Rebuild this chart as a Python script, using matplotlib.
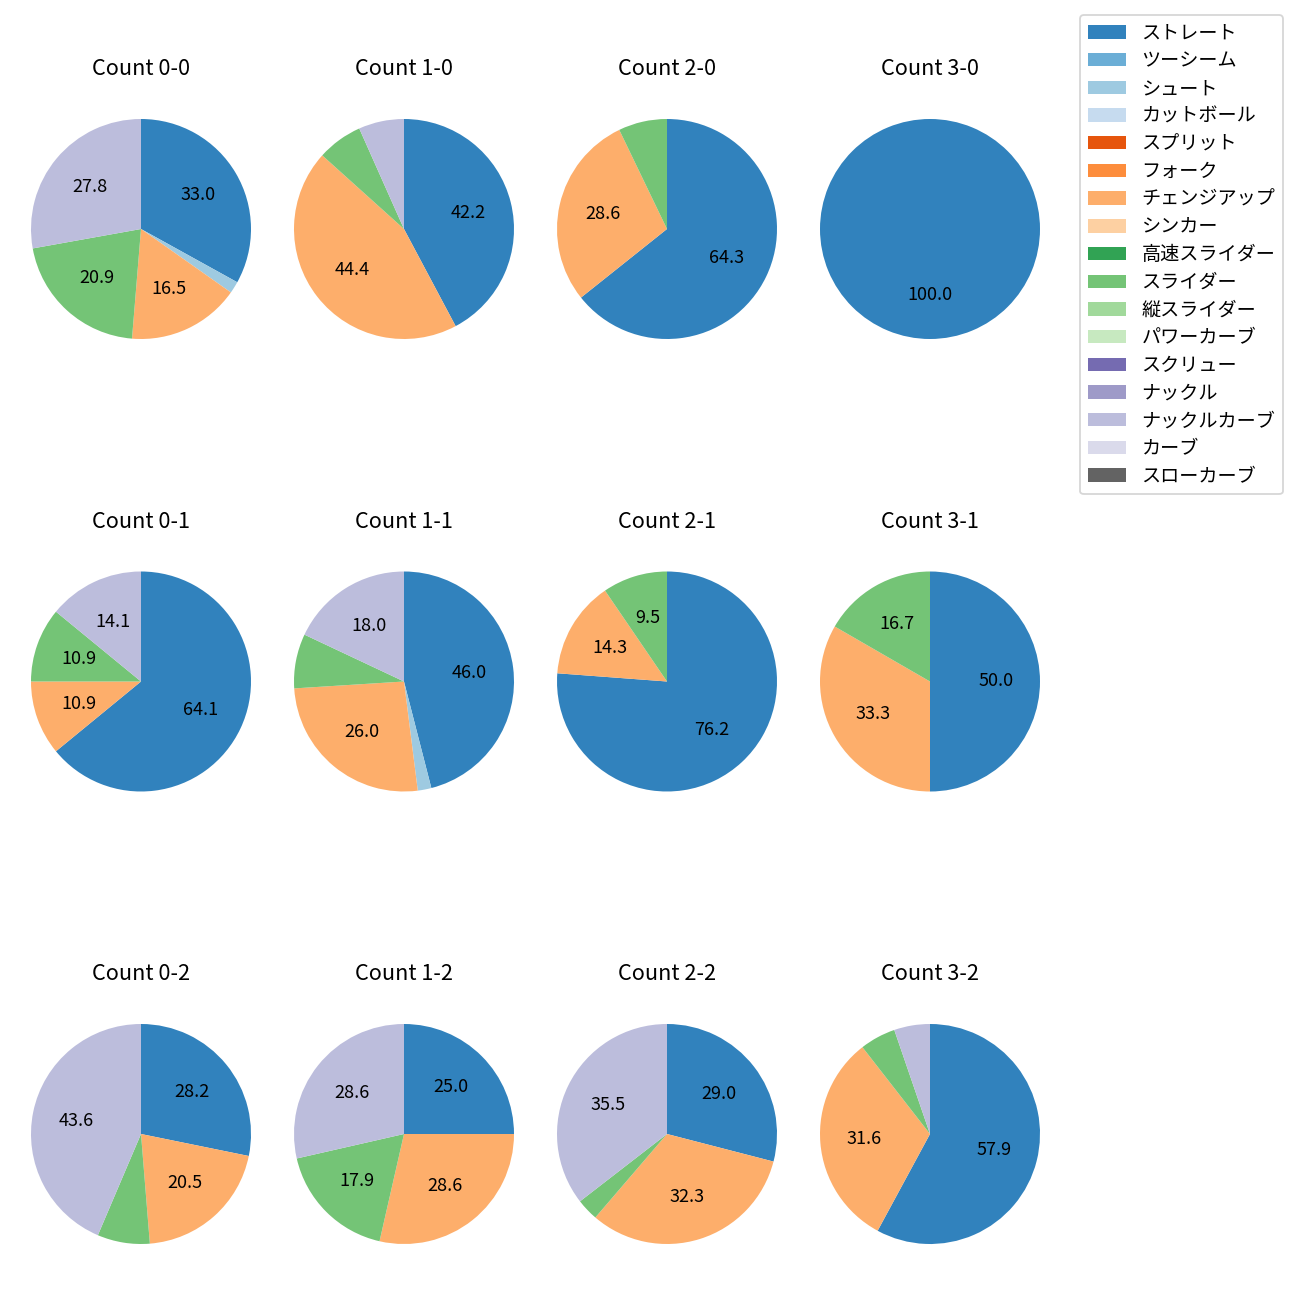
import matplotlib
matplotlib.use("Agg")
import matplotlib.pyplot as plt
import numpy as np
from matplotlib.patches import Patch

plt.rcParams['font.family'] = ['Noto Sans CJK JP', 'DejaVu Sans']

pitch_types = ["ストレート", "ツーシーム", "シュート", "カットボール", "スプリット", "フォーク",
               "チェンジアップ", "シンカー", "高速スライダー", "スライダー", "縦スライダー",
               "パワーカーブ", "スクリュー", "ナックル", "ナックルカーブ", "カーブ", "スローカーブ"]

counts = ["0-0", "1-0", "2-0", "3-0",
          "0-1", "1-1", "2-1", "3-1",
          "0-2", "1-2", "2-2", "3-2"]

# pitch counts per ball-strike count, in pitch_types order
#            Str Two Sht Cut Spl Frk Chg Snk HSl Sld VSl PCv Scr Knk KCv Crv SCv
c_0_0 = [38, 0, 2, 0, 0, 0, 19, 0, 0, 24, 0, 0, 0, 0, 32, 0, 0]
c_1_0 = [19, 0, 0, 0, 0, 0, 20, 0, 0, 3, 0, 0, 0, 0, 3, 0, 0]
c_2_0 = [9, 0, 0, 0, 0, 0, 4, 0, 0, 1, 0, 0, 0, 0, 0, 0, 0]
c_3_0 = [5, 0, 0, 0, 0, 0, 0, 0, 0, 0, 0, 0, 0, 0, 0, 0, 0]
c_0_1 = [41, 0, 0, 0, 0, 0, 7, 0, 0, 7, 0, 0, 0, 0, 9, 0, 0]
c_1_1 = [23, 0, 1, 0, 0, 0, 13, 0, 0, 4, 0, 0, 0, 0, 9, 0, 0]
c_2_1 = [16, 0, 0, 0, 0, 0, 3, 0, 0, 2, 0, 0, 0, 0, 0, 0, 0]
c_3_1 = [3, 0, 0, 0, 0, 0, 2, 0, 0, 1, 0, 0, 0, 0, 0, 0, 0]
c_0_2 = [11, 0, 0, 0, 0, 0, 8, 0, 0, 3, 0, 0, 0, 0, 17, 0, 0]
c_1_2 = [7, 0, 0, 0, 0, 0, 8, 0, 0, 5, 0, 0, 0, 0, 8, 0, 0]
c_2_2 = [9, 0, 0, 0, 0, 0, 10, 0, 0, 1, 0, 0, 0, 0, 11, 0, 0]
c_3_2 = [11, 0, 0, 0, 0, 0, 6, 0, 0, 1, 0, 0, 0, 0, 1, 0, 0]

data = [c_0_0, c_1_0, c_2_0, c_3_0, c_0_1, c_1_1, c_2_1, c_3_1,
        c_0_2, c_1_2, c_2_2, c_3_2]

cmap = plt.get_cmap('tab20c')
colors = [cmap(i) for i in range(len(pitch_types))]

W = H = 1300
fig = plt.figure(figsize=(10, 10), dpi=130)

box = 275
cx0, dx = 141, 263
cy0, dy = 229, 452.5

def autopct(p):
    return f"{p:.1f}" if p >= 9 else ""

for k, (cnt, vals) in enumerate(zip(counts, data)):
    r, c = divmod(k, 4)
    cx = cx0 + c * dx
    cy = cy0 + r * dy
    ax = fig.add_axes([(cx - box / 2) / W, 1 - (cy + box / 2) / H, box / W, box / H])
    vals = np.array(vals, dtype=float)
    idx = [i for i, v in enumerate(vals) if v > 0]
    ax.pie(vals[idx], colors=[colors[i] for i in idx], startangle=90,
           counterclock=False, autopct=autopct)
    ax.set_title(f"Count {cnt}", fontsize=12, pad=9)

handles = [Patch(facecolor=colors[i], label=p) for i, p in enumerate(pitch_types)]
fig.legend(handles=handles, loc='upper right',
           bbox_to_anchor=(1283 / W, 1 - 15 / H), borderaxespad=0, fontsize=10.6,
           labelspacing=0.35)

fig.savefig("out.png", dpi=130)
